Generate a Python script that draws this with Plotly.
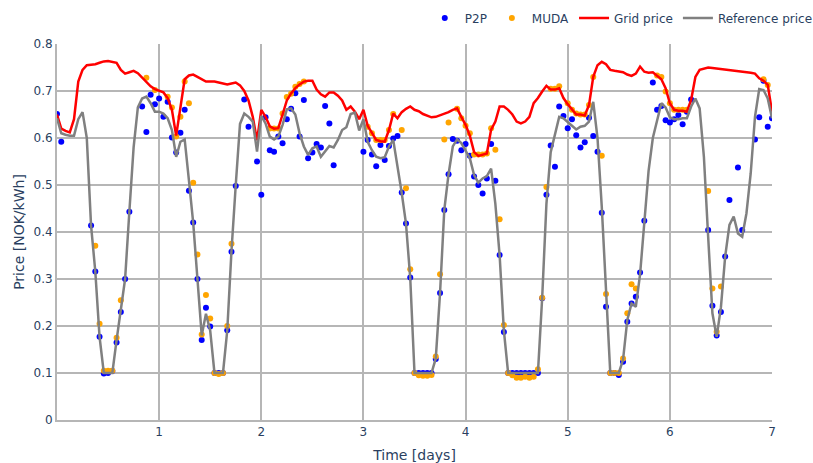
import plotly.graph_objects as go

# hourly time index (hours since start), shown in days
hours = list(range(169))

grid_price = [
    0.650, 0.620, 0.615, 0.612, 0.640, 0.720, 0.745, 0.755, 0.756, 0.757, 0.760, 0.763, 0.764, 0.762, 0.760, 0.745,
    0.737, 0.740, 0.743, 0.738, 0.728, 0.720, 0.710, 0.704, 0.700, 0.697, 0.685, 0.660, 0.605, 0.670, 0.725, 0.733,
    0.735, 0.730, 0.725, 0.720, 0.720, 0.720, 0.718, 0.716, 0.714, 0.716, 0.718, 0.712, 0.700, 0.680, 0.645, 0.595,
    0.660, 0.645, 0.625, 0.620, 0.621, 0.650, 0.680, 0.695, 0.706, 0.714, 0.720, 0.722, 0.722, 0.703, 0.693, 0.688,
    0.697, 0.697, 0.690, 0.680, 0.660, 0.667, 0.656, 0.640, 0.660, 0.626, 0.610, 0.596, 0.593, 0.592, 0.617, 0.652,
    0.642, 0.655, 0.662, 0.667, 0.660, 0.657, 0.651, 0.647, 0.644, 0.645, 0.648, 0.652, 0.655, 0.660, 0.663, 0.645,
    0.628, 0.605, 0.570, 0.562, 0.565, 0.567, 0.618, 0.635, 0.667, 0.667, 0.660, 0.650, 0.635, 0.631, 0.635, 0.645,
    0.674, 0.685, 0.699, 0.711, 0.703, 0.703, 0.706, 0.685, 0.672, 0.660, 0.650, 0.650, 0.648, 0.670, 0.730, 0.755,
    0.762, 0.757, 0.745, 0.743, 0.741, 0.740, 0.735, 0.732, 0.737, 0.752, 0.741, 0.739, 0.740, 0.732, 0.725, 0.706,
    0.674, 0.660, 0.658, 0.658, 0.656, 0.681, 0.730, 0.745, 0.748, 0.750, 0.749, 0.748, 0.747, 0.746, 0.745, 0.744,
    0.743, 0.741, 0.740, 0.739, 0.737, 0.727, 0.722, 0.713, 0.656,
]

reference_price = [
    0.642, 0.610, 0.607, 0.605, 0.605, 0.640, 0.655, 0.600, 0.414, 0.316, 0.177, 0.100, 0.100, 0.100, 0.170, 0.230,
    0.300, 0.443, 0.580, 0.665, 0.684, 0.688, 0.674, 0.656, 0.656, 0.652, 0.642, 0.617, 0.560, 0.592, 0.597, 0.510,
    0.420, 0.300, 0.180, 0.226, 0.190, 0.100, 0.100, 0.100, 0.190, 0.360, 0.500, 0.630, 0.652, 0.645, 0.635, 0.571,
    0.647, 0.631, 0.603, 0.597, 0.603, 0.628, 0.661, 0.663, 0.650, 0.610, 0.582, 0.564, 0.578, 0.582, 0.560, 0.571,
    0.583, 0.580, 0.596, 0.617, 0.623, 0.651, 0.654, 0.616, 0.640, 0.592, 0.574, 0.560, 0.557, 0.559, 0.582, 0.596,
    0.540, 0.483, 0.418, 0.302, 0.100, 0.100, 0.100, 0.100, 0.100, 0.131, 0.270, 0.447, 0.523, 0.582, 0.597, 0.589,
    0.574, 0.557, 0.521, 0.505, 0.514, 0.519, 0.535, 0.460, 0.351, 0.190, 0.100, 0.100, 0.100, 0.100, 0.100, 0.100,
    0.100, 0.100, 0.260, 0.460, 0.570, 0.610, 0.645, 0.642, 0.633, 0.626, 0.618, 0.624, 0.626, 0.635, 0.677, 0.600,
    0.454, 0.270, 0.100, 0.100, 0.100, 0.128, 0.213, 0.248, 0.241, 0.310, 0.425, 0.530, 0.600, 0.640, 0.674, 0.665,
    0.644, 0.640, 0.640, 0.642, 0.642, 0.667, 0.684, 0.663, 0.560, 0.390, 0.227, 0.177, 0.240, 0.348, 0.415, 0.433,
    0.397, 0.390, 0.440, 0.525, 0.645, 0.704, 0.702, 0.684, 0.642,
]

N = None
p2p_price = [
    0.651, 0.592, N, N, N, N, N, N, 0.414, 0.316, 0.177, 0.099, 0.100, 0.104, 0.165, 0.230,
    0.300, 0.443, N, N, 0.667, 0.613, 0.692, 0.672, 0.684, 0.645, 0.677, 0.601, 0.569, 0.611, 0.660, 0.488,
    0.420, 0.300, 0.170, 0.239, 0.199, 0.100, 0.100, 0.100, 0.191, 0.358, 0.498, N, 0.682, 0.624, N, 0.550,
    0.479, 0.644, 0.574, 0.571, 0.603, 0.589, 0.640, 0.662, 0.695, 0.603, 0.681, 0.557, 0.569, 0.587, 0.580, 0.668,
    0.631, 0.542, N, N, N, N, N, N, 0.571, 0.596, 0.565, 0.540, 0.585, 0.553, 0.583, 0.599,
    0.604, 0.484, 0.418, 0.303, 0.100, 0.100, 0.100, 0.100, 0.100, 0.130, 0.270, 0.447, 0.523, 0.598, 0.594, 0.574,
    0.587, 0.562, 0.518, 0.500, 0.482, 0.514, 0.587, 0.509, 0.351, 0.187, 0.100, 0.100, 0.100, 0.100, 0.100, 0.100,
    0.100, 0.100, 0.259, 0.479, 0.584, 0.539, 0.667, 0.647, 0.621, 0.640, 0.606, 0.580, 0.591, 0.643, 0.604, 0.571,
    0.441, 0.241, 0.100, 0.100, 0.096, 0.124, 0.209, 0.248, 0.262, 0.314, 0.424, N, 0.718, 0.660, 0.668, 0.638,
    0.633, 0.640, 0.649, 0.629, 0.656, 0.682, N, N, N, 0.404, 0.243, 0.180, 0.230, 0.348, 0.468, N,
    0.537, 0.404, N, N, 0.597, 0.644, 0.722, 0.624, 0.642,
]

muda_price = [
    N, N, N, N, N, N, N, N, N, 0.371, 0.205, 0.105, 0.105, 0.105, 0.175, 0.255,
    N, N, N, N, N, 0.728, N, 0.702, N, N, 0.688, 0.665, 0.603, 0.645, 0.720, 0.674,
    0.505, 0.352, 0.182, 0.266, 0.216, 0.100, 0.098, 0.100, 0.200, 0.375, N, N, N, N, N, N,
    N, N, 0.620, 0.620, 0.620, 0.652, 0.687, 0.694, 0.709, 0.715, 0.720, N, N, N, N, N,
    N, N, N, N, N, N, N, N, N, 0.624, 0.610, 0.596, 0.596, 0.596, 0.617, 0.651,
    N, 0.617, 0.493, 0.321, 0.100, 0.095, 0.094, 0.094, 0.096, 0.135, 0.310, 0.597, 0.633, N, 0.662, 0.642,
    0.626, 0.610, 0.565, 0.565, 0.565, 0.567, 0.621, 0.575, 0.427, 0.202, 0.100, 0.095, 0.090, 0.090, 0.092, 0.090,
    0.092, 0.108, 0.260, 0.496, 0.705, 0.705, 0.710, N, 0.674, 0.660, 0.652, 0.650, 0.650, 0.670, 0.730, N,
    0.562, 0.268, 0.100, 0.100, 0.100, 0.131, 0.227, 0.289, 0.280, N, N, N, N, 0.733, 0.730, 0.699,
    0.674, 0.660, 0.660, 0.660, 0.660, N, N, N, N, 0.487, 0.280, 0.188, 0.284, N, N, N,
    N, N, N, N, N, N, 0.725, 0.713, N,
]

x_tick_vals = [1, 2, 3, 4, 5, 6, 7]
x_tick_text = ["1", "2", "3", "4", "5", "6", "7"]

days = [h / 24 for h in hours]


def pts(vals):
    xs, ys = [], []
    for d, v in zip(days, vals):
        if v is not None:
            xs.append(d)
            ys.append(v)
    return xs, ys


px_, py_ = pts(p2p_price)
mx_, my_ = pts(muda_price)

FONT = "Verdana, DejaVu Sans, sans-serif"
GRID = "rgb(182,182,182)"

fig = go.Figure()
fig.add_trace(go.Scatter(x=px_, y=py_, mode="markers", name="P2P",
                         marker=dict(color="blue", size=6)))
fig.add_trace(go.Scatter(x=mx_, y=my_, mode="markers", name="MUDA",
                         marker=dict(color="orange", size=6)))
fig.add_trace(go.Scatter(x=days, y=grid_price, mode="lines", name="Grid price",
                         line=dict(color="red", width=2.5)))
fig.add_trace(go.Scatter(x=days, y=reference_price, mode="lines", name="Reference price",
                         line=dict(color="gray", width=2.5)))

fig.update_layout(
    width=813, height=463,
    margin=dict(l=57, r=41, t=44, b=43, autoexpand=False),
    paper_bgcolor="white", plot_bgcolor="white",
    font=dict(family=FONT, size=12, color="#2a3f5f"),
    legend=dict(orientation="h", x=1.064, xanchor="right", y=1.069, yanchor="middle",
                font=dict(size=12), bgcolor="rgba(0,0,0,0)"),
    xaxis=dict(title=dict(text="Time [days]", font=dict(size=14)),
               range=[0.0, 7.0], tickvals=x_tick_vals, ticktext=x_tick_text,
               showgrid=True, gridcolor=GRID, gridwidth=2,
               showline=True, linecolor=GRID, linewidth=2,
               zeroline=False, ticks=""),
    yaxis=dict(title=dict(text="Price [NOK/kWh]", font=dict(size=14), standoff=6),
               range=[0, 0.8], dtick=0.1,
               showgrid=True, gridcolor=GRID, gridwidth=2,
               showline=True, linecolor=GRID, linewidth=2,
               zeroline=False, ticks=""),
)

fig.write_html("out.html")
